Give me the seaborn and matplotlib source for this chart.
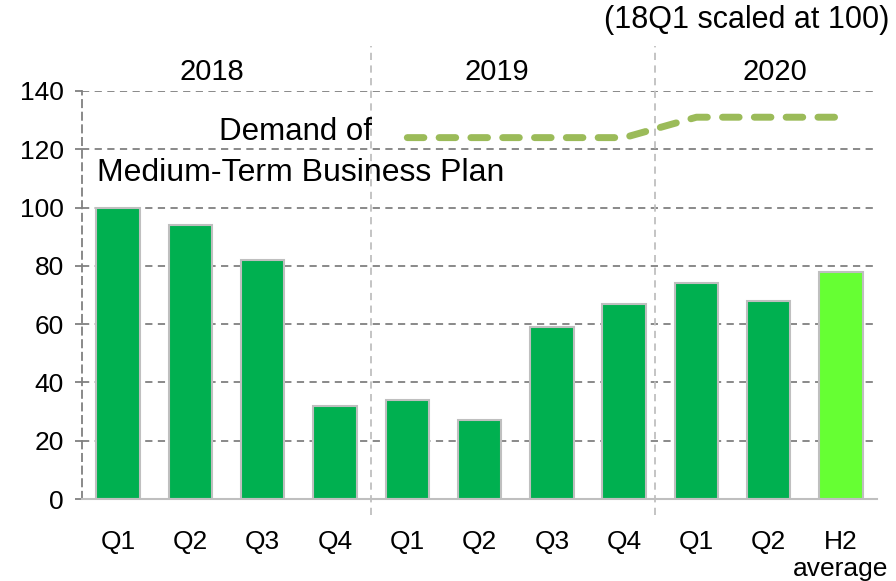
import matplotlib
matplotlib.use('Agg')
import matplotlib.pyplot as plt
import seaborn as sns
import pandas as pd

# data
quarters = ['Q1', 'Q2', 'Q3', 'Q4', 'Q1', 'Q2', 'Q3', 'Q4', 'Q1', 'Q2', 'H2\naverage']
values = [100, 94, 82, 32, 34, 27, 59, 67, 74, 68, 78]
kind = ['actual'] * 10 + ['forecast']
years = ['2018', '2019', '2020']
year_pos = [1.3, 5.24, 9.08]
demand_idx = [4, 5, 6, 7, 8, 9, 10]
demand = [124, 124, 124, 124, 131, 131, 131]

sns.set_style('white')
plt.rcParams['font.family'] = ['Liberation Sans', 'DejaVu Sans']
plt.rcParams['text.color'] = 'black'
plt.rcParams['xtick.color'] = 'black'
plt.rcParams['ytick.color'] = 'black'

df = pd.DataFrame({'pos': [str(i) for i in range(len(values))], 'value': values, 'kind': kind})

fig = plt.figure(figsize=(8.96, 5.81), dpi=100)
ax = fig.add_axes([0.0915, 0.1411, 0.8875, 0.7023])

sns.barplot(data=df, x='pos', y='value', hue='kind', dodge=False, saturation=1,
            palette={'actual': '#00B050', 'forecast': '#66FF33'},
            edgecolor='#BFBFBF', linewidth=1.5, width=0.6, legend=False, ax=ax)

line_df = pd.DataFrame({'x': demand_idx, 'y': demand})
sns.lineplot(data=line_df, x='x', y='y', color='#9BBB59', linewidth=5,
             ax=ax, zorder=4)
ln = ax.lines[-1]
ln.set_dashes((2.39, 2.19))
ln.set_dash_capstyle('round')

ax.set_xlim(-0.5, len(values) - 0.5)
ax.set_ylim(0, 140)
ax.set_yticks(range(0, 141, 20))
ax.yaxis.grid(True, color='#808080', linestyle=(0, (4, 3)), linewidth=1.3)
ax.set_axisbelow(True)

ax.set_xticks(range(len(values)))
ax.set_xticklabels(quarters, fontsize=19, linespacing=1.2)
ax.set_xticks([i - 0.5 for i in range(len(values) + 1)], minor=True)
ax.tick_params(axis='x', which='major', length=0, pad=22)
ax.tick_params(axis='x', which='minor', length=5, color='#BFBFBF', width=1)
ax.tick_params(axis='y', labelsize=19, length=5, color='#808080', width=1.3, pad=8, left=True)
ax.set_xlabel('')
ax.set_ylabel('')

for s in ['top', 'right']:
    ax.spines[s].set_visible(False)
ax.spines['bottom'].set_color('#BFBFBF')
ax.spines['bottom'].set_linewidth(1.5)
ax.spines['left'].set_color('#808080')
ax.spines['left'].set_linestyle((0, (4, 3)))
ax.spines['left'].set_linewidth(1.3)

# year separators
for xs in [3.5, 7.43]:
    ax.axvline(xs, ymin=-0.04, ymax=1.11, color='#BFBFBF', linestyle=(0, (4, 3)),
               linewidth=1.3, clip_on=False)

for yr, xp in zip(years, year_pos):
    ax.text(xp, 146.5, yr, fontsize=21, ha='center', va='center')

ax.text(2.45, 126, 'Demand of', fontsize=22.5, ha='center', va='center')
ax.text(-0.29, 112, 'Medium-Term Business Plan', fontsize=23, ha='left', va='center')
fig.text(0.993, 0.965, '(18Q1 scaled at 100)', fontsize=22, ha='right', va='center')

fig.savefig('out.png', dpi=100)
